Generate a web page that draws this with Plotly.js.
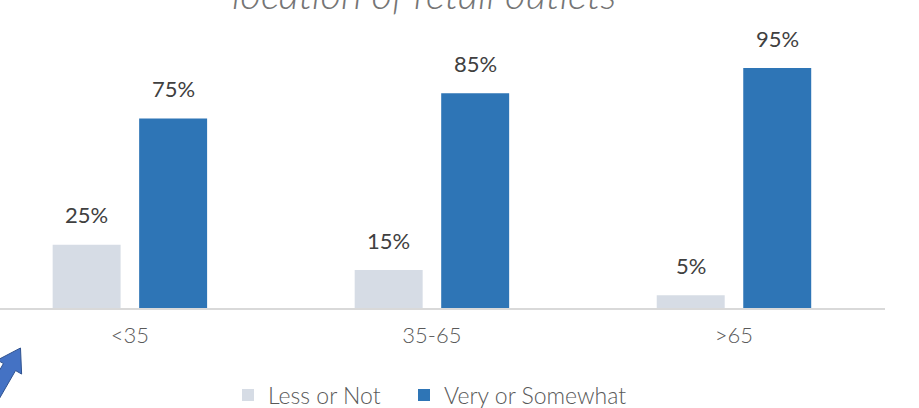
<!DOCTYPE html>
<html>
<head>
<meta charset="utf-8">
<script src="https://cdn.plot.ly/plotly-3.0.1.min.js"></script>
<style>
html,body{margin:0;padding:0;background:#fff;overflow:hidden;}
#chart{width:919px;height:408px;}
</style>
</head>
<body>
<div id="chart"></div>
<script>
// ---- data ----
const categories = ["<35", "35-65", ">65"];
const seriesNames = ["Less or Not", "Very or Somewhat"];
const lessOrNot = [25, 15, 5];
const veryOrSomewhat = [75, 85, 95];
const titleText = "location of retail outlets";

// ---- layout geometry ----
const W = 919, H = 408;
const M = {l: 0, r: 34, t: 30, b: 100};
const plotW = W - M.l - M.r, plotH = H - M.t - M.b;
const px2x = px => (px - M.l) / plotW;
const py2y = py => (H - M.b - py) / plotH;

const barW = 0.225;
const centerOff = 0.1432;
const colors = ["#d6dce5", "#2e75b6"];
const fontFam = "Lato, 'Open Sans', sans-serif";

const traces = [
  {type: "bar", name: seriesNames[0], x: categories, y: lessOrNot,
   width: barW, offset: -centerOff - barW / 2, legend: "legend",
   marker: {color: colors[0]}, hoverinfo: "skip"},
  {type: "bar", name: seriesNames[1], x: categories, y: veryOrSomewhat,
   width: barW, offset: centerOff - barW / 2, legend: "legend2",
   marker: {color: colors[1]}, hoverinfo: "skip"}
];

const annotations = [];
[lessOrNot, veryOrSomewhat].forEach((vals, si) => {
  vals.forEach((v, i) => {
    annotations.push({
      x: i + (si === 0 ? -centerOff : centerOff), y: v, xref: "x", yref: "y",
      text: v + "%", showarrow: false, yanchor: "middle", yshift: 30,
      font: {family: fontFam, size: 22, color: "#404040"}
    });
  });
});
annotations.push({
  x: px2x(424), y: py2y(-6), xref: "paper", yref: "paper",
  text: titleText, showarrow: false, xanchor: "center", yanchor: "middle",
  font: {family: fontFam, size: 40, color: "#757575", style: "italic", weight: 300}
});

// decorative arrow (bottom-left), defined in pixels
const d = [0.5, -0.866], n = [0.866, 0.5];
const T = [20.5, 348], Lh = 22, hw = 14, sw = 7, sl = 45;
const B = [T[0] - Lh * d[0], T[1] - Lh * d[1]];
const pts = [
  T,
  [B[0] + hw * n[0], B[1] + hw * n[1]],
  [B[0] + sw * n[0], B[1] + sw * n[1]],
  [B[0] + sw * n[0] - sl * d[0], B[1] + sw * n[1] - sl * d[1]],
  [B[0] - sw * n[0] - sl * d[0], B[1] - sw * n[1] - sl * d[1]],
  [B[0] - sw * n[0], B[1] - sw * n[1]],
  [B[0] - hw * n[0], B[1] - hw * n[1]]
];
const path = "M" + pts.map(p => px2x(p[0]).toFixed(5) + "," + py2y(p[1]).toFixed(5)).join("L") + "Z";

const legendBase = {
  orientation: "h", xref: "container", xanchor: "left",
  yref: "container", y: 1 - 395 / H, yanchor: "middle",
  font: {family: fontFam, size: 23, color: "#595959", weight: 300},
  bgcolor: "rgba(0,0,0,0)"
};

const layout = {
  width: W, height: H,
  margin: M,
  paper_bgcolor: "#ffffff", plot_bgcolor: "#ffffff",
  showlegend: true,
  barmode: "overlay",
  xaxis: {
    type: "category", range: [-0.43, 2.5], automargin: false,
    showline: true, linecolor: "#d9d9d9", linewidth: 2,
    showgrid: false, zeroline: false, ticks: "", ticklabelstandoff: 7,
    tickfont: {family: fontFam, size: 22, color: "#595959", weight: 300},
    fixedrange: true
  },
  yaxis: {
    range: [0, plotH / 2.526], visible: false, showgrid: false, zeroline: false,
    fixedrange: true, automargin: false
  },
  legend: Object.assign({}, legendBase, {x: 228 / W}),
  legend2: Object.assign({}, legendBase, {x: 404 / W}),
  annotations: annotations,
  shapes: [{
    type: "path", xref: "paper", yref: "paper", path: path,
    fillcolor: "#4472c4", line: {color: "#2f528f", width: 1}, layer: "above"
  }]
};

Plotly.newPlot("chart", traces, layout, {displayModeBar: false, staticPlot: true});
</script>
</body>
</html>
